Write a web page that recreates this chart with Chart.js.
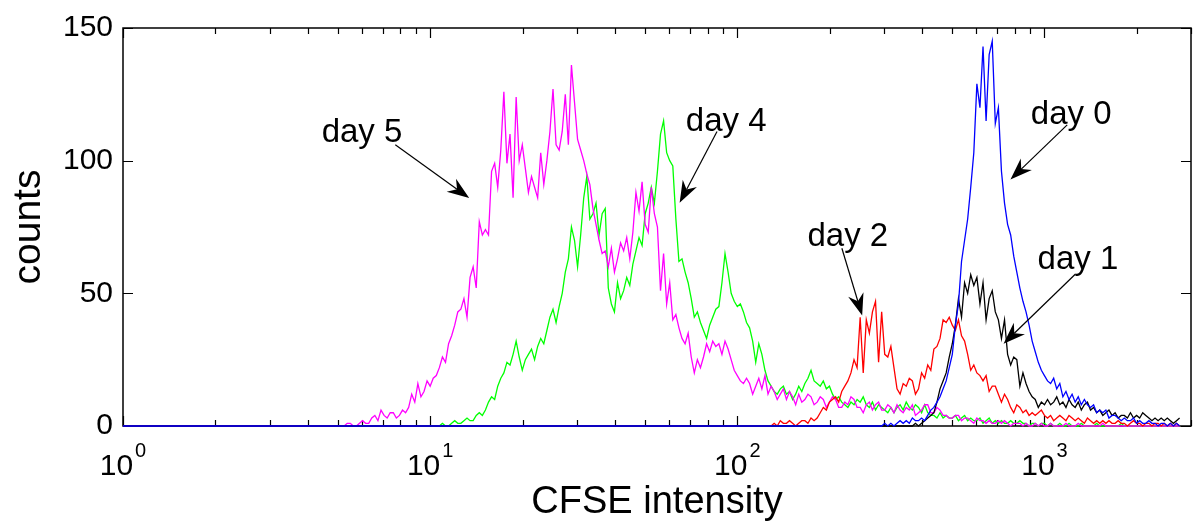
<!DOCTYPE html>
<html>
<head>
<meta charset="utf-8">
<title>CFSE intensity</title>
<script src="https://cdn.jsdelivr.net/npm/chart.js@4.4.1/dist/chart.umd.min.js"></script>
<style>
  html, body { margin: 0; padding: 0; background: #fff; }
  canvas { display: block; }
</style>
</head>
<body>
<canvas id="cfse-chart" width="1200" height="527"></canvas>
<script>
// Histogram bins are spaced evenly in log10(intensity)
const binStep = 0.01;

// day 0 (blue), first bin at 10^2.46
const day0Start = 2.46;
const day0Counts = [
  0, 0, 1, 0, 1, 0, 1, 2, 1, 2,
  1, 3, 2, 2, 3, 2, 4, 6, 7, 9,
  11, 14, 17, 22, 27, 38, 46, 62, 70, 78,
  90, 103, 129, 120, 143, 115, 140, 145, 114, 120,
  96, 84, 76, 72, 64, 58, 52, 47, 43, 38,
  32, 28, 24, 21, 19, 17, 16, 18, 14, 16,
  11, 13, 10, 12, 9, 11, 8, 10, 8, 7,
  8, 5, 6, 5, 6, 3, 4, 4, 3, 2,
  3, 2, 2, 3, 1, 2, 1, 1, 2, 1,
  1, 0, 1, 1, 0, 1, 0, 1, 0
];

// day 1 (black), first bin at 10^2.56
const day1Start = 2.56;
const day1Counts = [
  0, 0, 1, 0, 1, 2, 3, 4, 5, 9,
  14, 17, 20, 26, 31, 38, 48, 41, 54, 50,
  57, 53, 56, 46, 54, 40, 48, 51, 43, 40,
  33, 40, 27, 23, 26, 25, 15, 20, 16, 13,
  11, 10, 7, 9, 8, 10, 8, 9, 11, 8,
  9, 7, 10, 8, 7, 9, 6, 8, 9, 6,
  7, 5, 6, 4, 5, 6, 4, 5, 3, 4,
  4, 3, 5, 3, 4, 3, 5, 4, 3, 2,
  3, 2, 3, 2, 3, 2, 1, 2, 3
];

// day 2 (red), first bin at 10^2.10
const day2Start = 2.10;
const day2Counts = [
  0, 0, 1, 0, 2, 1, 1, 2, 1, 0,
  1, 2, 2, 1, 3, 2, 3, 5, 7, 6,
  9, 10, 11, 9, 13, 15, 17, 20, 25, 22,
  41, 20, 40, 35, 43, 47, 24, 43, 27, 26,
  30, 22, 14, 12, 16, 15, 18, 17, 12, 14,
  20, 18, 23, 21, 29, 30, 33, 40, 39, 41,
  38, 36, 40, 34, 32, 27, 21, 23, 20, 19,
  17, 19, 13, 15, 15, 12, 9, 12, 10, 7,
  5, 8, 7, 5, 6, 4, 5, 4, 5, 6,
  4, 3, 4, 2, 3, 4, 3, 2, 4, 3,
  2, 3, 2, 1, 3, 2, 1, 2, 1, 2,
  1, 2, 1, 1, 2, 1, 1, 0, 1, 2,
  1, 1, 0, 1, 1, 0, 1, 1, 0, 1,
  0, 1, 0, 1, 0
];

// day 4 (green), first bin at 10^1.02
const day4Start = 1.02;
const day4Counts = [
  0, 0, 1, 0, 0, 1, 2, 1, 1, 2,
  3, 2, 2, 4, 5, 4, 6, 9, 11, 10,
  15, 18, 20, 24, 23, 27, 32, 26, 21, 25,
  27, 29, 25, 30, 33, 31, 36, 41, 44, 39,
  45, 50, 58, 63, 75, 70, 60, 72, 86, 94,
  78, 80, 84, 72, 80, 82, 52, 46, 43, 54,
  48, 51, 56, 53, 61, 66, 71, 68, 80, 84,
  90, 84, 96, 110, 115, 103, 100, 98, 78, 62,
  63, 58, 54, 48, 41, 43, 39, 36, 33, 38,
  41, 44, 45, 54, 65, 58, 50, 47, 45, 46,
  43, 39, 37, 32, 24, 31, 27, 21, 17, 15,
  13, 12, 14, 15, 12, 13, 10, 12, 15, 13,
  16, 18, 21, 17, 16, 15, 17, 14, 15, 12,
  10, 11, 9, 8, 7, 9, 8, 10, 9, 11,
  8, 7, 9, 6, 8, 7, 6, 5, 7, 5,
  7, 8, 6, 9, 7, 6, 8, 7, 5, 8,
  5, 4, 4, 3, 5, 3, 4, 3, 3, 4,
  2, 3, 4, 2, 3, 2, 2, 3, 1, 2,
  3, 1, 2, 1, 2, 1, 1, 2, 1, 1,
  2, 1, 1, 0, 1, 1, 0, 1, 1, 0,
  1, 0, 0, 1, 0, 0, 1, 0, 0, 0,
  1, 0, 0, 0, 0, 1, 0, 0, 0, 0,
  0, 0, 0, 1, 0, 0, 0, 0, 0, 0,
  0, 0, 0, 0, 0, 0, 0, 0, 0, 0,
  0, 0, 0
];

// day 5 (magenta), first bin at 10^0.70
const day5Start = 0.70;
const day5Counts = [
  0, 0, 0, 1, 1, 0, 0, 1, 2, 1,
  1, 3, 4, 2, 6, 4, 3, 5, 5, 3,
  4, 6, 5, 7, 12, 9, 16, 11, 13, 17,
  15, 18, 19, 22, 26, 24, 31, 34, 38, 43,
  44, 48, 41, 56, 60, 52, 77, 72, 74, 72,
  96, 99, 90, 104, 126, 99, 110, 86, 124, 100,
  106, 97, 88, 94, 90, 86, 103, 91, 100, 111,
  127, 106, 104, 111, 125, 106, 136, 122, 108, 104,
  100, 95, 91, 82, 76, 70, 65, 66, 60, 67,
  58, 63, 69, 66, 71, 63, 73, 88, 81, 92,
  76, 73, 90, 80, 75, 51, 65, 46, 54, 40,
  42, 37, 33, 31, 35, 26, 20, 25, 22, 26,
  31, 28, 32, 30, 31, 27, 32, 29, 25, 21,
  19, 17, 16, 18, 16, 12, 15, 18,
  14, 19, 12, 15, 13, 10, 12, 14, 10, 13,
  11, 8, 12, 9, 10, 12, 11, 8, 9, 11,
  10, 7, 9, 11, 10, 7, 7, 9, 8, 11,
  10, 7, 7, 5, 8, 9, 6, 8, 9, 6,
  6, 8, 7, 5, 8, 6, 5, 7, 6, 8,
  4, 5, 6, 8, 8, 5, 5, 7, 6, 4,
  4, 3, 3, 4, 4, 2, 3, 3, 2, 1,
  3, 2, 2, 1, 2, 1, 1, 2, 1, 2,
  1, 0, 1, 1, 1, 0, 1, 0, 0, 1,
  0, 1, 0, 0, 1, 0, 0, 0, 0, 1,
  0, 0, 0, 1, 0, 0, 0, 0, 0, 0,
  0, 1, 0, 0, 0, 0, 0, 0, 0, 0,
  0, 0, 0, 0, 0, 0, 0, 0, 0, 0,
  0, 0, 0, 0, 0, 0, 0
];

// axis ticks
const xMin = 1;
const xMax = 3000;
const xMajorTicks = [1, 10, 100, 1000];
const xTickExponents = ['0', '1', '2', '3'];
const yTicks = [0, 50, 100, 150];

// annotation labels and arrows, in data units
const noteTexts = ['day 5', 'day 4', 'day 2', 'day 0', 'day 1'];
const noteTextX = [6.0, 92, 229, 1222, 1285];
const noteTextY = [107, 111, 68, 114, 59];
const arrowFromX = [7.7, 85.9, 219, 1186, 1262];
const arrowFromY = [106, 111, 67, 113.5, 57.3];
const arrowToX = [13.4, 64.9, 255, 775, 736];
const arrowToY = [85.9, 84.1, 41.6, 92.9, 31.0];

const fontFamily = "'Liberation Sans', Arial, Helvetica, sans-serif";

function toPoints(startExp, counts) {
  // every trace starts flat on the baseline at 10^0
  const points = [{ x: xMin, y: 0 }];
  counts.forEach((c, i) => {
    points.push({ x: Math.pow(10, startExp + i * binStep), y: c });
  });
  return points;
}

function drawArrow(ctx, sx, sy, tx, ty) {
  const ang = Math.atan2(ty - sy, tx - sx);
  const cos = Math.cos(ang), sin = Math.sin(ang);
  const len = 22, half = 8, notch = 15;
  const bx = tx - len * cos, by = ty - len * sin;
  const nx = tx - notch * cos, ny = ty - notch * sin;

  ctx.beginPath();
  ctx.moveTo(sx, sy);
  ctx.lineTo(nx, ny);
  ctx.stroke();

  ctx.beginPath();
  ctx.moveTo(tx, ty);
  ctx.lineTo(bx - half * sin, by + half * cos);
  ctx.lineTo(nx, ny);
  ctx.lineTo(bx + half * sin, by - half * cos);
  ctx.closePath();
  ctx.fill();
}

// MATLAB style box with inward ticks, and log tick labels with superscripts
const matlabAxes = {
  id: 'matlabAxes',
  beforeDatasetsDraw(chart) {
    const { ctx, chartArea: a, scales: { x, y } } = chart;
    ctx.save();
    ctx.strokeStyle = '#000';
    ctx.lineWidth = 1.2;

    ctx.beginPath();
    xMajorTicks.forEach(decade => {
      for (let m = 1; m <= 9; m++) {
        const v = m * decade;
        if (v > xMax) break;
        const px = Math.round(x.getPixelForValue(v)) + 0.5;
        const len = m === 1 ? 10 : 6;
        ctx.moveTo(px, a.bottom);
        ctx.lineTo(px, a.bottom - len);
        ctx.moveTo(px, a.top);
        ctx.lineTo(px, a.top + len);
      }
    });
    yTicks.forEach(v => {
      const py = Math.round(y.getPixelForValue(v)) + 0.5;
      ctx.moveTo(a.left, py);
      ctx.lineTo(a.left + 10, py);
      ctx.moveTo(a.right, py);
      ctx.lineTo(a.right - 10, py);
    });
    ctx.stroke();

    ctx.lineWidth = 1.5;
    ctx.strokeRect(a.left, a.top, a.right - a.left, a.bottom - a.top);

    // x tick labels: 10 with a raised exponent
    ctx.fillStyle = '#000';
    ctx.textBaseline = 'alphabetic';
    ctx.textAlign = 'left';
    xMajorTicks.forEach((v, i) => {
      const px = x.getPixelForValue(v);
      ctx.font = '30px ' + fontFamily;
      const baseW = ctx.measureText('10').width;
      ctx.font = '20px ' + fontFamily;
      const expW = ctx.measureText(xTickExponents[i]).width;
      const left = px - (baseW + 2 + expW) / 2;
      ctx.font = '30px ' + fontFamily;
      ctx.fillText('10', left, a.bottom + 49);
      ctx.font = '20px ' + fontFamily;
      ctx.fillText(xTickExponents[i], left + baseW + 2, a.bottom + 31);
    });
    ctx.restore();
  },
  afterDatasetsDraw(chart) {
    const { ctx, scales: { x, y } } = chart;
    ctx.save();
    ctx.fillStyle = '#000';
    ctx.strokeStyle = '#000';
    ctx.lineWidth = 1.2;
    ctx.font = '33px ' + fontFamily;
    ctx.textAlign = 'center';
    ctx.textBaseline = 'alphabetic';
    noteTexts.forEach((t, i) => {
      ctx.fillText(t, x.getPixelForValue(noteTextX[i]), y.getPixelForValue(noteTextY[i]));
      drawArrow(ctx,
        x.getPixelForValue(arrowFromX[i]), y.getPixelForValue(arrowFromY[i]),
        x.getPixelForValue(arrowToX[i]), y.getPixelForValue(arrowToY[i]));
    });
    ctx.restore();
  }
};

document.addEventListener('DOMContentLoaded', function () {
  // first dataset is drawn on top, so blue covers the baseline
  const traces = [
    { label: 'day 0', color: '#0000ff', start: day0Start, counts: day0Counts },
    { label: 'day 1', color: '#000000', start: day1Start, counts: day1Counts },
    { label: 'day 2', color: '#ff0000', start: day2Start, counts: day2Counts },
    { label: 'day 5', color: '#ff00ff', start: day5Start, counts: day5Counts },
    { label: 'day 4', color: '#00ff00', start: day4Start, counts: day4Counts }
  ];

  const ctx = document.getElementById('cfse-chart').getContext('2d');
  new Chart(ctx, {
    type: 'line',
    data: {
      datasets: traces.map(t => ({
        label: t.label,
        data: toPoints(t.start, t.counts),
        borderColor: t.color,
        borderWidth: 1.3,
        pointRadius: 0,
        tension: 0,
        fill: false,
        clip: false
      }))
    },
    options: {
      responsive: false,
      animation: false,
      layout: { padding: { top: 26, right: 9, left: 0, bottom: 0 } },
      plugins: {
        legend: { display: false },
        tooltip: { enabled: false }
      },
      scales: {
        x: {
          type: 'logarithmic',
          min: xMin,
          max: xMax,
          grid: { display: false, drawTicks: false },
          border: { display: false },
          ticks: { display: false },
          title: {
            display: true,
            text: 'CFSE intensity',
            color: '#000',
            font: { family: fontFamily, size: 38 },
            padding: { top: 53, bottom: 2 }
          },
          afterFit: scale => { scale.height = 101; }
        },
        y: {
          min: 0,
          max: 150,
          grid: { display: false, drawTicks: false },
          border: { display: false },
          ticks: {
            stepSize: 50,
            padding: 10,
            color: '#000',
            font: { family: fontFamily, size: 30 }
          },
          title: {
            display: true,
            text: 'counts',
            color: '#000',
            font: { family: fontFamily, size: 39 },
            padding: { top: 6, bottom: 0 }
          },
          afterFit: scale => { scale.width = 123; }
        }
      }
    },
    plugins: [matlabAxes]
  });
});
</script>
</body>
</html>
